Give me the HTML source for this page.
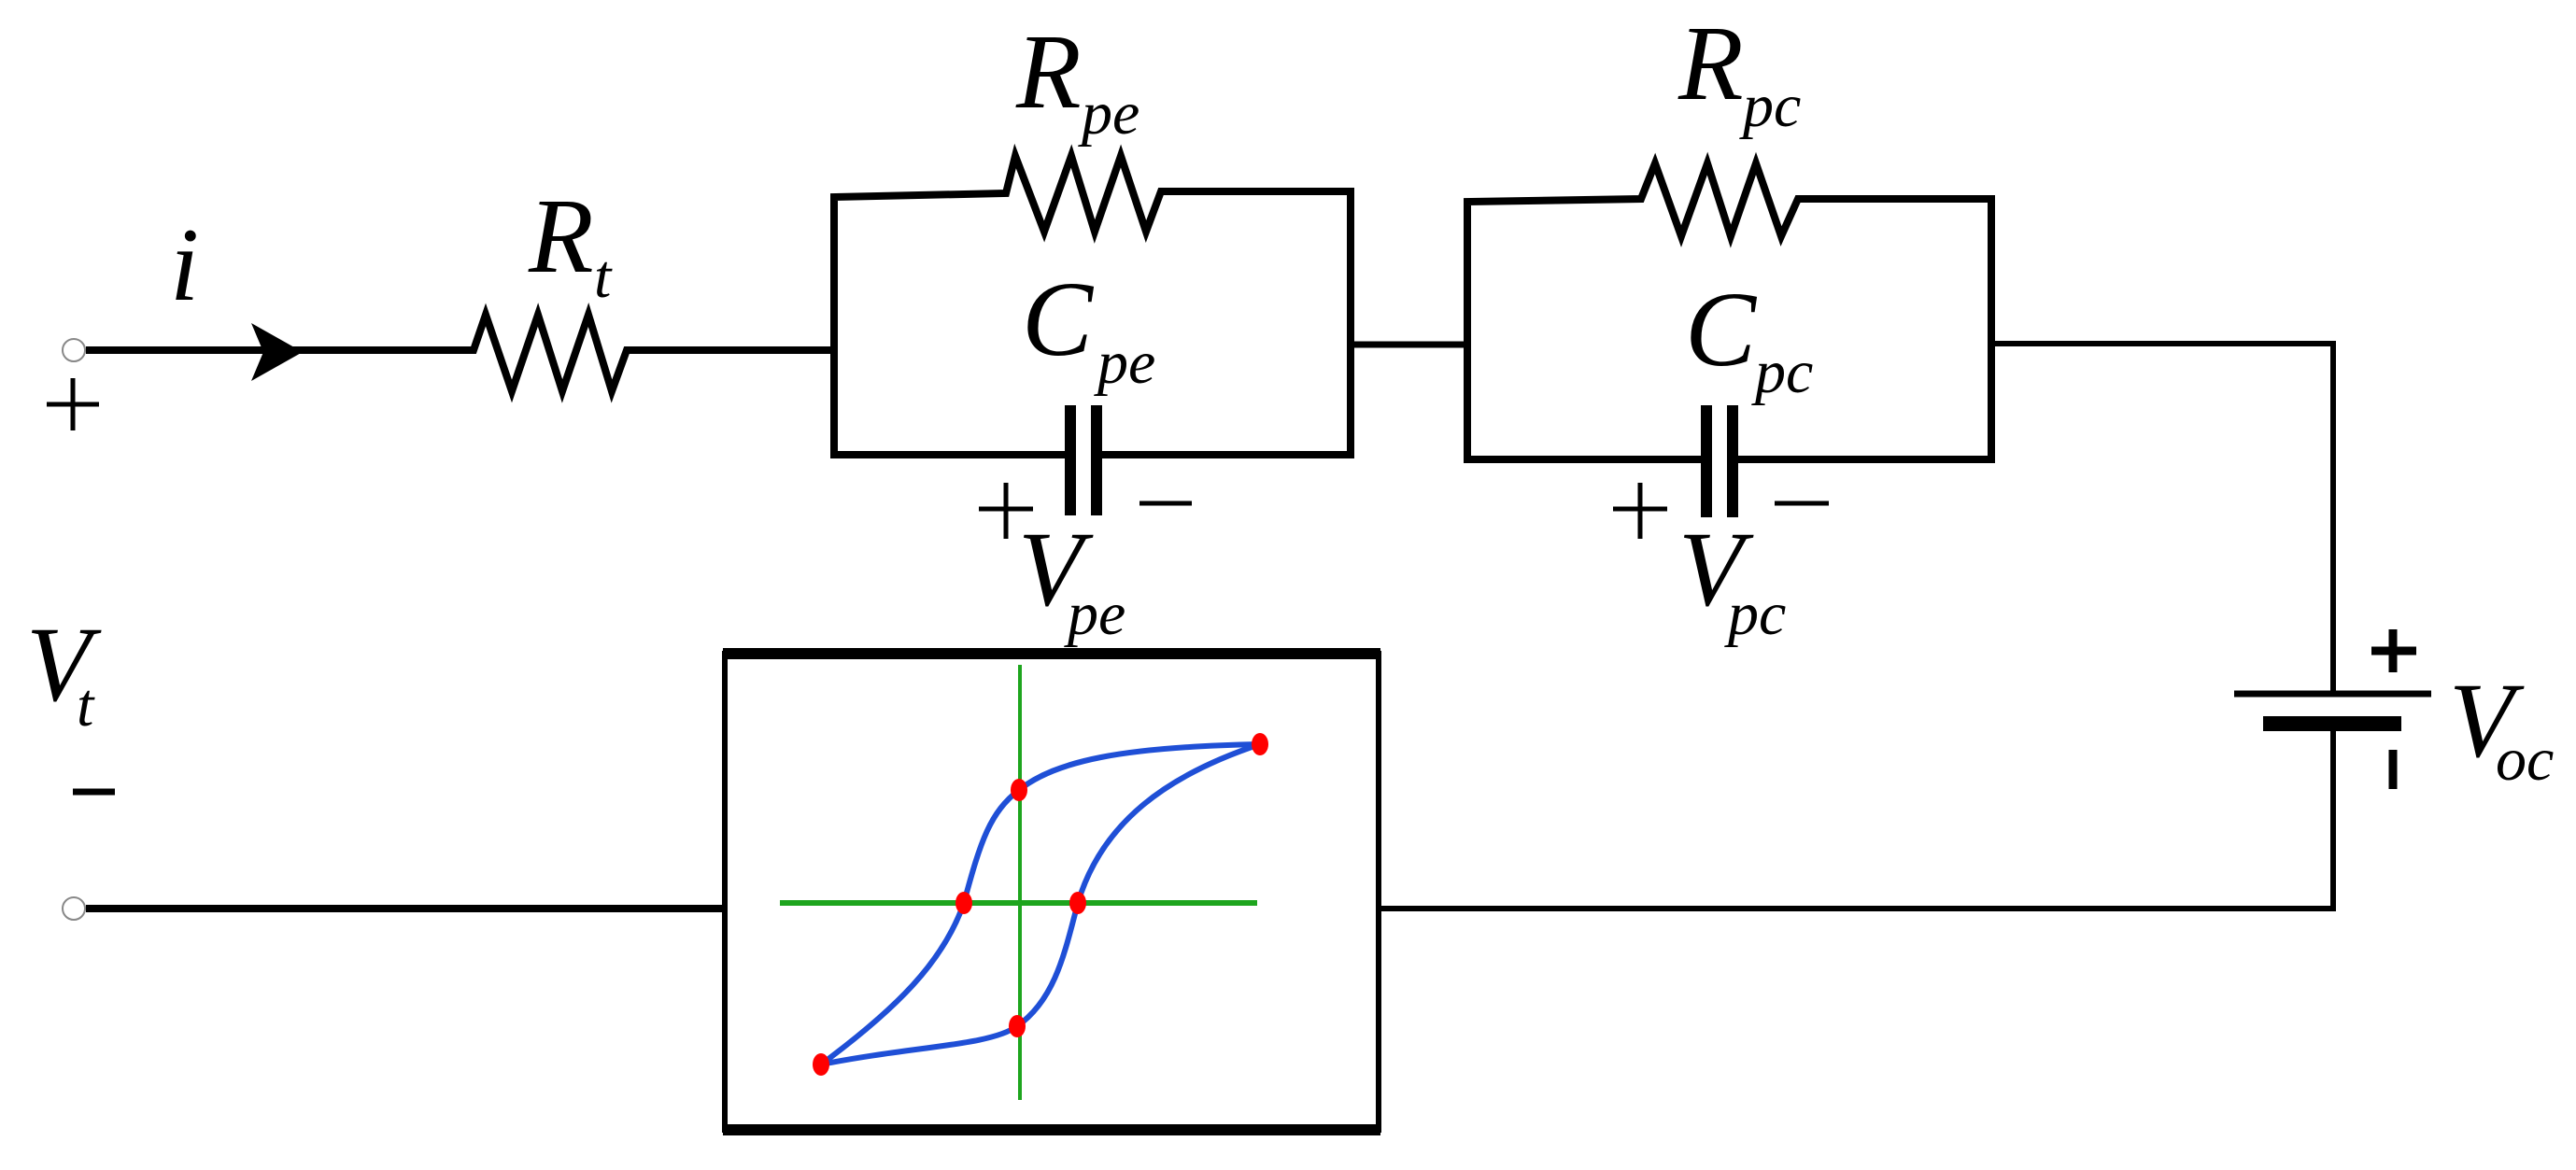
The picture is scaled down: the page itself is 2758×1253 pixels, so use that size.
<!DOCTYPE html>
<html><head><meta charset="utf-8"><style>
html,body{margin:0;padding:0;background:#fff;}
svg{display:block;}
text{font-family:"Liberation Serif",serif;font-style:italic;fill:#000;}
</style></head><body>
<svg width="2758" height="1253" viewBox="0 0 2758 1253" xmlns="http://www.w3.org/2000/svg">
<g fill="none" stroke="#000" stroke-width="6" stroke-linejoin="miter">
<!-- top wire -->
<polyline points="92,375 507,375 520,337 548,419 576,337 602,419 630,337 655,419 671,375 893,375" stroke-width="8"/>
<!-- Rpe box -->
<polyline points="893,375 893,487 1146,487" stroke-width="8"/>
<polyline points="1174,487 1446,487 1446,205 1243,205 1227,248 1200,167 1172,248 1147,167 1118,248 1087,167 1077,207 893,211 893,375" stroke-width="8"/>
<line x1="1446" y1="369" x2="1571" y2="369" stroke-width="7"/>
<!-- Rpc box -->
<polyline points="1571,369 1571,492 1828,492" stroke-width="8"/>
<polyline points="1856,492 2132,492 2132,213 1925,213 1907,253 1880,175 1853,253 1828,175 1800,253 1772,175 1757,213 1571,216 1571,369" stroke-width="8"/>
<!-- right wire -->
<polyline points="2132,368 2498,368 2498,743"/>
<polyline points="2498,775 2498,973 1478,973"/>
<line x1="2392" y1="743" x2="2603" y2="743" stroke-width="7"/>
<line x1="2423" y1="775" x2="2571" y2="775" stroke-width="16"/>
<!-- bottom wire -->
<line x1="92" y1="973" x2="774" y2="973" stroke-width="8"/>
<!-- box -->
<rect x="776" y="700" width="700" height="510" stroke-width="6"/>
<line x1="774" y1="700" x2="1478" y2="700" stroke-width="12"/>
<line x1="774" y1="1210" x2="1478" y2="1210" stroke-width="12"/>
<!-- capacitors -->
<line x1="1146" y1="434" x2="1146" y2="552" stroke-width="12"/>
<line x1="1174" y1="434" x2="1174" y2="552" stroke-width="12"/>
<line x1="1827" y1="434" x2="1827" y2="554" stroke-width="12"/>
<line x1="1855" y1="434" x2="1855" y2="554" stroke-width="12"/>
<!-- signs -->
<path d="M1048,545 h58 M1077,517 v60 M1220,539 h56" stroke-width="5"/>
<path d="M1727,545 h58 M1756,517 v60 M1900,539 h58" stroke-width="5"/>
<path d="M50,433 h56 M78,405 v56" stroke-width="5"/>
<path d="M78,848 h45" stroke-width="7"/>
<path d="M2539,697 h48 M2562,674 v46" stroke-width="9"/>
<path d="M2562,803 v42" stroke-width="9"/>
</g>
<!-- terminals -->
<circle cx="79" cy="375" r="12" fill="#fff" stroke="#888" stroke-width="2"/>
<circle cx="79" cy="973" r="12" fill="#fff" stroke="#888" stroke-width="2"/>
<!-- arrow -->
<polygon points="269,346 324,377 269,408 282,377" fill="#000"/>
<!-- hysteresis -->
<g stroke="#1ea51e" stroke-width="6">
<line x1="1092" y1="712" x2="1092" y2="1178" stroke-width="4"/>
<line x1="835" y1="967" x2="1346" y2="967"/>
</g>
<g fill="none" stroke="#1f4fd6" stroke-width="6">
<path d="M879,1140 C960,1080 1010,1030 1032,967 C1050,900 1060,870 1091,846 C1130,815 1200,800 1349,797"/>
<path d="M879,1140 C980,1120 1060,1120 1089,1099 C1130,1070 1140,1020 1154,967 C1180,880 1250,830 1349,797"/>
</g>
<g fill="#f00">
<ellipse cx="1349" cy="797" rx="9" ry="12"/>
<ellipse cx="1091" cy="846" rx="9" ry="12"/>
<ellipse cx="1032" cy="967" rx="9" ry="12"/>
<ellipse cx="1154" cy="967" rx="9" ry="12"/>
<ellipse cx="1089" cy="1099" rx="9" ry="12"/>
<ellipse cx="879" cy="1140" rx="9" ry="12"/>
</g>
<!-- labels -->
<text x="182" y="321" font-size="112">i</text>
<text x="566" y="291" font-size="114">R</text><text x="636" y="318" font-size="66">t</text>
<text x="1088" y="115" font-size="114">R</text><text x="1158" y="143" font-size="66">pe</text>
<text x="1094" y="380" font-size="114">C</text><text x="1175" y="410" font-size="66">pe</text>
<text x="1090" y="648" font-size="114">V</text><text x="1143" y="679" font-size="66">pe</text>
<text x="1797" y="106" font-size="114">R</text><text x="1866" y="135" font-size="66">pc</text>
<text x="1804" y="391" font-size="114">C</text><text x="1879" y="420" font-size="66">pc</text>
<text x="1797" y="648" font-size="114">V</text><text x="1850" y="679" font-size="66">pc</text>
<text x="28" y="750" font-size="114">V</text><text x="82" y="777" font-size="66">t</text>
<text x="2622" y="810" font-size="114">V</text><text x="2672" y="835" font-size="66">oc</text>
</svg>
</body></html>
